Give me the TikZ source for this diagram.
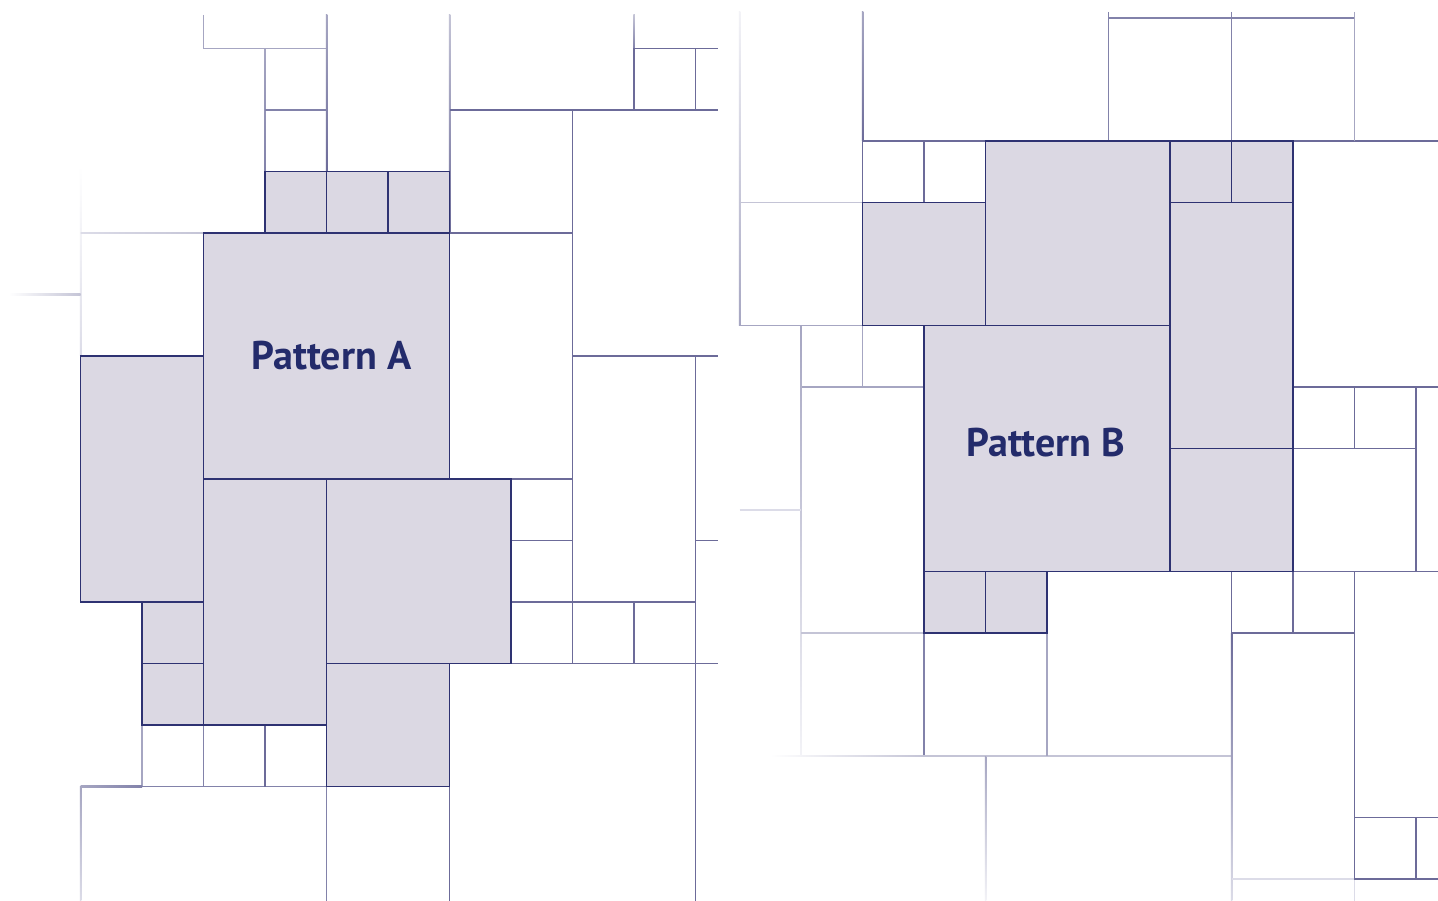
\documentclass[tikz,border=0pt]{standalone}
\usepackage{fontspec}
\newfontfamily\labfont{PT Sans}
\definecolor{fillc}{HTML}{DBD8E3}
\definecolor{darkc}{HTML}{2E3272}
\definecolor{midc}{HTML}{6C6B99}
\definecolor{txtc}{HTML}{232B6B}
\definecolor{l1}{HTML}{8282AA}
\definecolor{l2}{HTML}{A6A6C2}
\definecolor{l3}{HTML}{C4C4D6}
\definecolor{l4}{HTML}{DCDCE8}
\definecolor{l5}{HTML}{F3F3F7}
\tikzset{
  shbox/.style={fill=fillc, draw=darkc, line width=1.7pt},
  ln/.style={draw=midc, line width=1.5pt},
  lab/.style={font=\labfont\bfseries\fontsize{40}{40}\selectfont, text=txtc, anchor=base, inner sep=0pt}
}
\newcommand\myvf[5]{\shade[top color=#4,bottom color=#5] ([xshift=-0.75pt]#1,#2) rectangle ([xshift=0.75pt]#1,#3);}
\newcommand\myhf[5]{\shade[left color=#4,right color=#5] ([yshift=-0.75pt]#2,#1) rectangle ([yshift=0.75pt]#3,#1);}
\begin{document}
\begin{tikzpicture}[x=1pt,y=-1pt]
\useasboundingbox (0,0) rectangle (1438,901);
\fill[white] (0,0) rectangle (1438,901);
% ---------------- Pattern A ----------------
\begin{scope}[shift={(80.5,48.5)}, x=61.5pt, y=-61.5pt]
  % faded top / left lines
  \draw[ln, draw=l2] (2,-0.545) -- (2,0) -- (4,0);
  \myvf{3}{0}{2}{l2}{l1}
  \draw[ln, draw=l1] (3,1) -- (4,1);
  \myvf{4}{-0.545}{2}{l2}{midc}
  \myvf{6}{-0.545}{3}{l3}{midc}
  \myvf{9}{-0.545}{0}{l3}{l1}
  \myvf{0}{1.9}{5}{white}{l4}
  \myhf{3}{0}{2}{l4}{l3}
  \myhf{4}{-1.163}{0}{white}{l3}
  % right side
  \draw[ln] (6,1) -- (10.37,1);
  \draw[ln] (9,0) -- (10.37,0);
  \draw[ln] (9,0) -- (9,1) (10,0) -- (10,1);
  \draw[ln] (8,1) -- (8,10);
  \draw[ln] (6,3) -- (8,3);
  \draw[ln] (8,5) -- (10.37,5);
  \draw[ln] (10,5) -- (10,13.86);
  \draw[ln] (10,8) -- (10.37,8);
  \draw[ln] (7,10) -- (10.37,10);
  \draw[ln] (7,7) -- (8,7) (7,8) -- (8,8) (7,9) -- (10,9);
  \draw[ln] (9,9) -- (9,10);
  \draw[ln] (6,12) -- (6,13.86);
  % bottom left
  \draw[ln, draw=l1] (4,12) -- (4,13.86);
  \draw[ln, draw=l2] (1,11) -- (1,12);
  \draw[ln, draw=l1] (1,12) -- (4,12) (2,11) -- (2,12);
  \draw[ln] (3,11) -- (3,12);
  \myhf{12}{0}{1}{l2}{l1}
  \myvf{0}{12}{13.86}{l2}{l4}
  % shaded
  \path[shbox] (3,2) rectangle (4,3);
  \path[shbox] (4,2) rectangle (5,3);
  \path[shbox] (5,2) rectangle (6,3);
  \path[shbox] (2,3) rectangle (6,7);
  \path[shbox] (0,5) rectangle (2,9);
  \path[shbox] (1,9) rectangle (2,10);
  \path[shbox] (1,10) rectangle (2,11);
  \path[shbox] (2,7) rectangle (4,11);
  \path[shbox] (4,7) rectangle (7,10);
  \path[shbox] (4,10) rectangle (6,12);
\end{scope}
% ---------------- Pattern B ----------------
\begin{scope}[shift={(739.5,18)}, x=61.5pt, y=-61.5pt]
  \myvf{0}{-0.1}{5}{l5}{l2}
  \draw[ln, draw=l3] (0,3) -- (2,3);
  \draw[ln, draw=l2] (0,5) -- (2,5);
  \myvf{2}{-0.1}{2}{l2}{midc}
  \draw[ln] (2,2) rectangle (4,3) (3,2) -- (3,3);
  \draw[ln] (2,2) -- (11.36,2);
  \draw[ln, draw=l1] (6,-0.1) -- (6,2) (8,-0.1) -- (8,2) (6,0) -- (10,0);
  \draw[ln, draw=l2] (10,-0.1) -- (10,2);
  \draw[ln, draw=l2] (1,5) rectangle (3,6) (2,5) -- (2,6);
  \myvf{1}{5}{12}{l2}{l5}
  \draw[ln, draw=l4] (0,8) -- (1,8);
  \draw[ln, draw=l3] (1,10) -- (3,10);
  \draw[ln, draw=l1] (3,10) -- (3,12);
  \myhf{12}{0.5}{3}{white}{l3}
  \draw[ln, draw=l3] (3,12) -- (8,12);
  \draw[ln, draw=l2] (5,10) -- (5,12);
  \myvf{4}{12}{14.36}{l2}{l5}
  \draw[ln] (8,9) -- (8,10);
  \myvf{8}{10}{14.36}{midc}{l4}
  \draw[ln] (8,9) rectangle (10,10) (9,9) -- (9,10);
  \draw[ln] (10,9) -- (10,14);
  \draw[ln, draw=l4] (8,14) -- (10,14) (10,14) -- (10,14.36);
  \draw[ln] (9,9) -- (11.36,9);
  \draw[ln] (10,13) rectangle (11,14) (11,13) -- (11.36,13) (11,14) -- (11.36,14);
  \draw[ln] (9,6) rectangle (11,7) (10,6) -- (10,7);
  \draw[ln] (11,6) -- (11,9) (11,6) -- (11.36,6);
  % shaded
  \path[shbox] (2,3) rectangle (4,5);
  \path[shbox] (4,2) rectangle (7,5);
  \path[shbox] (7,2) rectangle (8,3);
  \path[shbox] (8,2) rectangle (9,3);
  \path[shbox] (7,3) rectangle (9,7);
  \path[shbox] (3,5) rectangle (7,9);
  \path[shbox] (7,7) rectangle (9,9);
  \path[shbox] (3,9) rectangle (4,10);
  \path[shbox] (4,9) rectangle (5,10);
\end{scope}
\node[lab] (pa) at (331.5,369.5) {Pattern A};
\node[lab] (pb) at (1046,456) {Pattern B};
\end{tikzpicture}
\end{document}
